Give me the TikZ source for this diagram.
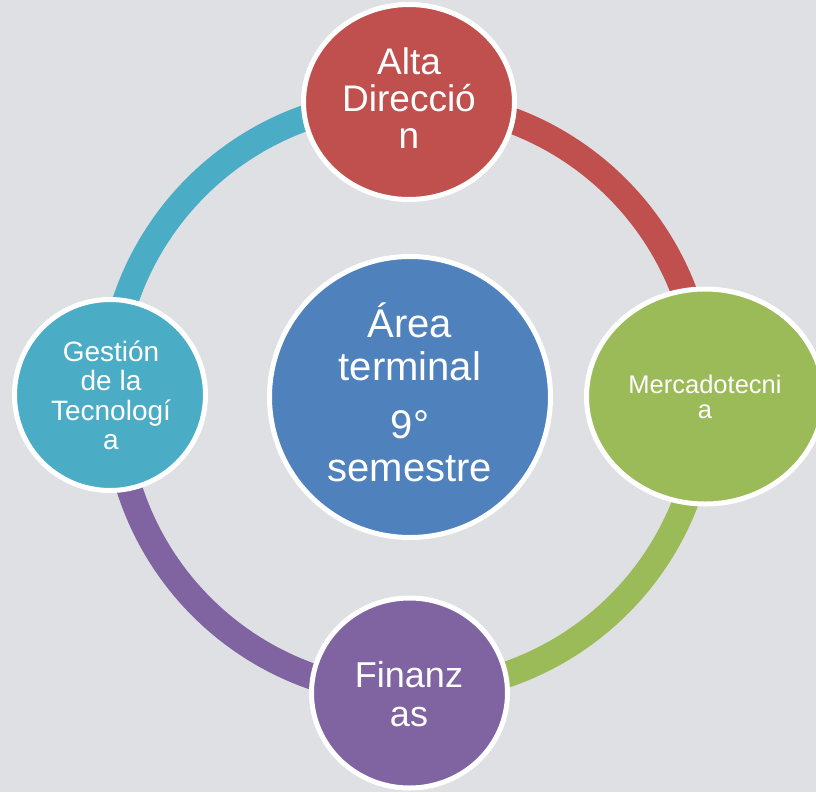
\documentclass[tikz,border=0pt]{standalone}
\usepackage{fontspec}
\setmainfont{Liberation Sans}
\usetikzlibrary{shapes.geometric}
\definecolor{bg}{HTML}{DFE0E4}
\definecolor{cRed}{HTML}{C0504D}
\definecolor{cGreen}{HTML}{9BBB59}
\definecolor{cPurple}{HTML}{8064A2}
\definecolor{cTeal}{HTML}{4BACC6}
\definecolor{cBlue}{HTML}{4F81BD}
\pgfdeclarelayer{ringlayer}
\pgfsetlayers{ringlayer,main}
\begin{document}
\begin{tikzpicture}[x=1pt,y=-1pt,
  bubble/.style={ellipse, draw=white, line width=5pt, inner sep=0pt, outer sep=0pt},
  lbl/.style={text=white, align=center, inner sep=0pt},
  ringarc/.style={line width=26pt}]
\useasboundingbox (0,0) rectangle (816,792);
% bubbles
\node[bubble, fill=cBlue, minimum width=281, minimum height=281] (center) at (410,397) {};
\node[bubble, fill=cRed, minimum width=211, minimum height=195] (top) at (409,102) {};
\node[bubble, fill=cGreen, minimum width=237, minimum height=215] (right) at (705,396.5) {};
\node[bubble, fill=cPurple, minimum width=196, minimum height=190] (bottom) at (409.5,693) {};
\node[bubble, fill=cTeal, minimum width=191, minimum height=191] (left) at (110,395) {};
% labels
\node[lbl, font=\fontsize{40}{43}\selectfont] (tcenter) at (410,392) {Área\\terminal\\[15pt]9°\\semestre};
\node[lbl, font=\fontsize{37}{37}\selectfont] (ttop) at (409,97.75) {Alta\\Direcció\\n};
\node[lbl, font=\fontsize{25.5}{25}\selectfont] (tright) at (705,396.5) {Mercadotecni\\a};
\node[lbl, font=\fontsize{36}{39}\selectfont] (tbottom) at (409,694.5) {Finanz\\as};
\node[lbl, font=\fontsize{28}{29.5}\selectfont] (tleft) at (111,395.5) {Gestión\\de la\\Tecnologí\\a};
% ring
\begin{pgfonlayer}{ringlayer}
\fill[bg] (0,0) rectangle (816,792);
\draw[ringarc, cRed] (top.center) arc[start angle=-90, end angle=0, radius=294];
\draw[ringarc, cGreen] (right.center) arc[start angle=0, end angle=90, radius=294];
\draw[ringarc, cPurple] (bottom.center) arc[start angle=90, end angle=180, radius=294];
\draw[ringarc, cTeal] (left.center) arc[start angle=180, end angle=270, radius=294];
\end{pgfonlayer}
\end{tikzpicture}
\end{document}
